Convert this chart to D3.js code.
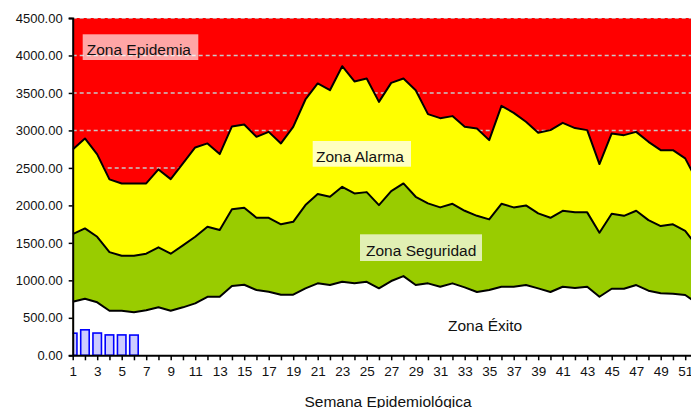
<!DOCTYPE html>
<html>
<head>
<meta charset="utf-8">
<script src="https://cdn.jsdelivr.net/npm/d3@7"></script>
<style>
html,body{margin:0;padding:0;background:#fff;overflow:hidden;}
text{font-family:"Liberation Sans",Arial,sans-serif;}
</style>
</head>
<body>
<script>
const weeks = [1,2,3,4,5,6,7,8,9,10,11,12,13,14,15,16,17,18,19,20,21,22,23,24,25,26,27,28,29,30,31,32,33,34,35,36,37,38,39,40,41,42,43,44,45,46,47,48,49,50,51,52];
const alarmaUpper = [2747,2893,2680,2347,2293,2293,2293,2480,2350,2560,2773,2827,2684,3053,3080,2915,2981,2827,3048,3413,3627,3537,3857,3653,3693,3381,3635,3693,3537,3217,3164,3191,3048,3027,2871,3328,3235,3115,2968,3004,3101,3031,3004,2551,2960,2937,2981,2848,2737,2737,2627,2320];
const seguridadUpper = [1617,1693,1581,1377,1328,1328,1355,1440,1355,1467,1581,1715,1671,1947,1968,1835,1835,1747,1781,2004,2151,2115,2248,2160,2177,2004,2191,2293,2115,2027,1973,2021,1928,1861,1813,2021,1973,2000,1893,1835,1928,1907,1907,1635,1888,1861,1928,1804,1724,1747,1661,1450];
const exitoUpper = [715,755,707,595,595,573,600,640,595,640,693,781,781,924,941,871,848,808,808,893,960,937,981,960,981,893,991,1057,937,960,915,960,906,844,871,915,915,937,893,844,915,897,915,781,888,888,937,862,827,822,804,690];
const caseWeeks = [1,2,3,4,5,6];
const cases = [295,340,297,272,272,270];
const yTicks = [0,500,1000,1500,2000,2500,3000,3500,4000,4500];
const xTickLabels = [1,3,5,7,9,11,13,15,17,19,21,23,25,27,29,31,33,35,37,39,41,43,45,47,49,51];
const xTitle = "Semana Epidemiológica";
const zoneLabels = ["Zona Epidemia","Zona Alarma","Zona Seguridad","Zona Éxito"];

const W = 691, H = 408;
const svg = d3.select("body").append("svg").attr("width", W).attr("height", H);

const x = d3.scaleLinear().domain([1, 52]).range([72.7, 72.7 + 51*12.25]);
const y = d3.scaleLinear().domain([0, 4500]).range([355.3, 18]);

svg.append("defs").append("clipPath").attr("id","plot")
  .append("rect").attr("x", x(1)).attr("y", y(4500)).attr("width", x(52)-x(1)).attr("height", y(0)-y(4500));

const plot = svg.append("g").attr("clip-path","url(#plot)");

// red background (Zona Epidemia)
plot.append("rect").attr("x", x(1)).attr("y", y(4500)).attr("width", x(52)-x(1)).attr("height", y(0)-y(4500)).attr("fill","#ff0000");

// gridlines
plot.selectAll("line.grid").data(yTicks.filter(d=>d>0)).enter().append("line")
  .attr("x1", x(1)).attr("x2", x(52)).attr("y1", d=>y(d)).attr("y2", d=>y(d))
  .attr("stroke","#c8c8c8").attr("stroke-width",1.5).attr("stroke-dasharray","4,3");

const series = [
  {vals: alarmaUpper, fill:"#ffff00"},
  {vals: seguridadUpper, fill:"#99cc00"},
  {vals: exitoUpper, fill:"#ffffff"}
];
series.forEach(s=>{
  const area = d3.area().x((d,i)=>x(weeks[i])).y0(y(0)).y1(d=>y(d));
  plot.append("path").datum(s.vals).attr("d", area).attr("fill", s.fill);
});
series.forEach(s=>{
  const line = d3.line().x((d,i)=>x(weeks[i])).y(d=>y(d));
  plot.append("path").datum(s.vals).attr("d", line).attr("fill","none").attr("stroke","#000").attr("stroke-width",2).attr("stroke-linejoin","round");
});

// bars
const bw = 8.5;
plot.selectAll("rect.bar").data(cases).enter().append("rect")
  .attr("x", (d,i)=>x(caseWeeks[i]) - bw/2).attr("width", bw)
  .attr("y", d=>y(d)).attr("height", d=>y(0)-y(d))
  .attr("fill","#ccccff").attr("stroke","#0000ff").attr("stroke-width",1.6);

// axes
const yAxis = svg.append("g").attr("transform",`translate(${x(1)},0)`)
  .call(d3.axisLeft(y).tickValues(yTicks).tickFormat(d3.format(".2f")).tickSize(4).tickPadding(6));
yAxis.select(".domain").attr("stroke","#000").attr("stroke-width",2);
yAxis.selectAll(".tick line").attr("stroke","#000").attr("stroke-width",1.5);
yAxis.selectAll(".tick text").attr("font-size","13px").attr("fill","#111").attr("font-family","Liberation Sans, Arial, sans-serif");

const xAxis = svg.append("g").attr("transform",`translate(0,${y(0)})`)
  .call(d3.axisBottom(x).tickValues(weeks).tickFormat(d=>xTickLabels.includes(d)?d:"").tickSize(5).tickPadding(6).tickSizeOuter(0));
xAxis.select(".domain").attr("stroke","#000").attr("stroke-width",2);
xAxis.selectAll(".tick line").attr("stroke","#000").attr("stroke-width",1.5);
xAxis.selectAll(".tick text").attr("font-size","13.5px").attr("fill","#111").attr("font-family","Liberation Sans, Arial, sans-serif");

svg.append("text").attr("x", 388).attr("y", 406.5).attr("text-anchor","middle")
  .attr("font-size","15.5px").attr("fill","#111").text(xTitle);

// zone labels
const labelBoxes = [
  {t: zoneLabels[0], bx:82.7, by:34.3, bw:115.6, bh:25.7, tx:86.7, ty:54.5, op:0.65},
  {t: zoneLabels[1], bx:312.7, by:141, bw:98.3, bh:25.7, tx:316, ty:161.5, op:0.75},
  {t: zoneLabels[2], bx:360, by:234.3, bw:122, bh:26.7, tx:366, ty:255.5, op:0.7},
  {t: zoneLabels[3], bx:0, by:0, bw:0, bh:0, tx:448, ty:331, op:0}
];
labelBoxes.forEach(b=>{
  if (b.bw>0) svg.append("rect").attr("x",b.bx).attr("y",b.by).attr("width",b.bw).attr("height",b.bh)
    .attr("fill","#fff").attr("fill-opacity",b.op);
  svg.append("text").attr("x",b.tx).attr("y",b.ty).attr("font-size","15.5px").attr("fill","#111").text(b.t);
});
</script>
</body>
</html>
